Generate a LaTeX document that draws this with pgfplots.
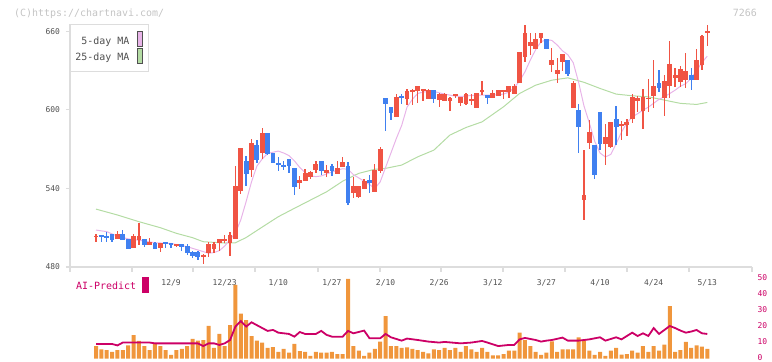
\documentclass[border=0pt]{standalone}
\usepackage{pgfplots}
\pgfplotsset{compat=1.18}
\usepackage{pgfplotstable}
\usepackage{fontspec}
\setmainfont{DejaVu Sans Mono}
\definecolor{cRed}{HTML}{F05444}
\definecolor{cBlue}{HTML}{4080F0}
\definecolor{maPink}{HTML}{E8B4E8}
\definecolor{maGreen}{HTML}{B4DCA4}
\definecolor{volOrange}{HTML}{F0963C}
\definecolor{aiMag}{HTML}{CC0066}
\definecolor{axGray}{HTML}{DDDDDD}
\definecolor{txGray}{HTML}{505050}
\definecolor{wmGray}{HTML}{C4C4C4}

\pgfplotstableread{
i o h l c
0 503.4 504.9 498.8 503.4
1 504.4 504.6 498.8 502.9
2 503.9 506.5 498.8 501.9
3 505.2 505.5 498.8 500.4
4 501.4 507.5 501.4 505.2
5 505.2 508.2 500.5 500.8
6 501.4 501.6 493.8 494.0
7 494.7 505.2 494.5 503.6
8 500.4 513.8 496.8 503.6
9 501.4 501.6 495.3 496.8
10 496.8 502.3 496.6 499.3
11 498.3 499.3 493.8 494.0
12 494.7 498.5 491.7 498.3
13 498.8 499.0 494.7 497.5
14 498.0 498.2 494.7 496.8
15 496.8 497.5 495.5 497.3
16 497.3 497.5 492.4 495.3
17 496.2 497.3 489.0 490.9
18 491.7 491.9 487.1 488.6
19 491.7 491.9 485.3 487.9
20 487.9 489.6 482.1 489.4
21 490.4 499.3 487.9 497.8
22 493.7 499.3 490.4 497.8
23 498.5 501.6 492.4 501.4
24 500.1 504.4 498.2 501.6
25 498.1 506.7 488.4 504.2
26 501.6 557.0 501.4 541.8
27 538.2 571.0 535.9 570.8
28 560.6 564.7 542.0 550.9
29 554.0 577.4 548.9 574.8
30 573.3 576.9 559.1 561.6
31 566.7 586.0 562.1 582.0
32 582.0 582.2 565.2 566.2
33 567.2 567.4 559.4 559.6
34 559.1 564.1 553.4 557.6
35 558.0 561.1 554.0 556.5
36 562.6 562.8 551.9 557.0
37 555.5 555.7 534.9 541.2
38 544.3 549.4 539.5 546.4
39 545.8 554.5 545.6 552.0
40 548.4 553.0 547.5 552.5
41 554.0 561.1 551.5 558.6
42 560.6 560.8 550.2 553.4
43 551.9 557.8 548.9 554.0
44 557.0 558.6 549.4 553.4
45 551.2 560.6 551.0 555.5
46 556.5 564.1 556.3 560.1
47 557.0 560.1 527.5 528.6
48 536.2 548.9 532.4 541.8
49 533.2 542.0 532.6 541.8
50 539.7 547.0 539.5 545.4
51 546.4 550.0 536.2 544.3
52 537.2 558.6 537.0 554.0
53 553.4 571.3 552.0 569.8
54 608.9 609.1 583.5 604.3
55 602.0 602.2 592.4 597.5
56 594.6 611.9 594.4 609.7
57 610.3 611.9 604.8 609.5
58 608.2 615.8 603.8 614.5
59 613.5 615.8 603.8 615.0
60 614.5 618.2 605.0 618.0
61 614.0 615.8 607.0 615.5
62 608.4 615.8 608.2 615.5
63 615.0 615.2 605.3 607.9
64 607.4 612.5 601.8 612.0
65 606.9 613.0 606.7 612.0
66 606.9 609.6 599.2 609.4
67 611.2 612.3 609.0 611.7
68 605.3 609.6 603.0 609.4
69 604.1 612.5 603.9 611.7
70 607.4 612.0 604.0 607.8
71 601.5 612.7 601.3 612.5
72 613.7 621.9 611.2 614.9
73 611.2 611.4 604.5 609.4
74 609.1 615.0 608.9 612.7
75 610.7 615.0 610.5 614.8
76 613.7 615.0 608.0 614.8
77 613.7 618.0 608.7 617.8
78 612.2 620.0 612.0 618.3
79 620.3 644.4 620.1 644.2
80 640.2 664.6 636.6 658.5
81 648.9 659.0 641.7 651.8
82 646.3 659.0 646.1 653.9
83 654.9 658.7 650.8 658.5
84 653.9 654.1 646.1 646.3
85 634.1 647.3 629.0 638.1
86 627.5 639.2 620.3 630.5
87 636.6 642.9 630.0 642.7
88 638.1 638.3 626.0 627.5
89 601.6 622.0 601.4 620.3
90 599.7 604.8 566.7 587.0
91 531.3 569.2 515.8 534.9
92 574.3 592.1 569.8 583.2
93 573.0 573.2 547.1 550.2
94 598.0 598.2 569.6 574.1
95 574.1 588.8 557.8 578.9
96 571.3 590.6 571.1 590.4
97 592.9 602.8 573.0 586.8
98 587.3 591.1 576.6 589.3
99 588.5 592.9 580.1 590.6
100 592.9 611.8 589.8 609.7
101 606.6 610.2 598.5 608.7
102 599.0 615.8 585.3 609.7
103 608.5 623.4 598.0 608.9
104 610.6 638.1 601.5 617.8
105 620.3 630.5 613.7 616.3
106 609.1 626.4 595.4 621.9
107 618.3 652.4 609.1 634.6
108 624.4 631.6 617.3 626.4
109 620.9 633.5 617.3 631.0
110 622.9 643.2 616.3 629.5
111 626.4 632.1 614.8 622.9
112 622.9 646.3 622.7 638.1
113 634.1 657.1 630.5 656.6
114 659.3 664.6 648.8 659.7
}\candles

\pgfplotstableread{
i v
0 7.8
1 5.7
2 5.3
3 4.1
4 5.3
5 5.3
6 8.2
7 14.7
8 11.0
9 7.8
10 5.3
11 9.1
12 7.8
13 5.3
14 2.2
15 5.3
16 6.0
17 7.8
18 12.3
19 11.2
20 11.6
21 20.4
22 6.6
23 15.4
24 7.8
25 21.0
26 46.1
27 28.1
28 24.1
29 14.1
30 11.2
31 10.0
32 6.6
33 7.2
34 4.1
35 6.0
36 3.7
37 9.1
38 4.7
39 4.1
40 1.6
41 4.1
42 3.7
43 3.7
44 4.1
45 2.8
46 2.8
47 49.9
48 7.8
49 4.9
50 1.6
51 3.7
52 6.0
53 10.6
54 26.6
55 7.8
56 7.8
57 6.6
58 6.9
59 6.1
60 5.3
61 4.1
62 3.2
63 5.7
64 5.3
65 6.6
66 5.3
67 6.6
68 4.1
69 7.8
70 5.7
71 4.1
72 6.6
73 4.1
74 2.0
75 2.0
76 2.8
77 4.9
78 4.9
79 16.2
80 11.6
81 7.8
82 4.1
83 2.2
84 3.7
85 10.8
86 4.1
87 5.7
88 5.7
89 5.7
90 13.3
91 11.2
92 4.9
93 2.2
94 4.1
95 1.6
96 4.9
97 6.6
98 2.4
99 2.8
100 4.9
101 3.7
102 7.8
103 4.1
104 7.8
105 4.9
106 8.7
107 32.9
108 4.1
109 5.3
110 10.4
111 6.6
112 8.2
113 7.4
114 6.1
}\volume

\begin{document}
\begin{tikzpicture}[x=1bp,y=1bp]
\useasboundingbox (0,0) rectangle (772,361);

% ---------------- price panel ----------------
\begin{axis}[
  at={(70bp,94bp)}, anchor=south west,
  scale only axis, width=682bp, height=243bp,
  xmin=-4.85, xmax=122.34, ymin=480, ymax=665.5,
  axis x line*=bottom, axis y line*=left,
  axis line style={draw=axGray, line width=1.2bp},
  every outer x axis line/.append style={-},
  every outer y axis line/.append style={-},
  tick align=outside,
  major tick length=4.5bp,
  tick style={draw=axGray, line width=1.2bp},
  xtick={-4.85,6.71,18.09,29.65,41.40,52.96,64.34,75.90,87.46,99.03,110.59,122.34},
  xticklabels={},
  extra x ticks={14,24,34,44,54,64,74,84,94,104,114},
  extra x tick labels={12/9,12/23,1/10,1/27,2/10,2/26,3/12,3/27,4/10,4/24,5/13},
  extra x tick style={major tick length=0pt,
     tick label style={font=\fontsize{8}{9}\selectfont, text=txGray, yshift=-9bp}},
  ytick={480,540,600,660},
  yticklabel style={font=\fontsize{8}{9}\selectfont, text=txGray, xshift=-2bp},
  /pgf/number format/assume math mode=true,
  clip=false,
  candle/.style={draw=none, mark=none, forget plot,
    error bars/y dir=both, error bars/y explicit, error bars/error mark=none},
]
\addplot[maGreen, line width=1bp] coordinates {
(0,524.2) (4,519.7) (8,514.6) (12,510.0) (15,505.7) (18,502.4) (20,499.3) (22,498.8)
(24,498.3) (26,498.5) (28,502.5) (31,510.5) (34,518.4) (37,524.8) (40,531.1) (43,537.4)
(46,545.5) (49,551.5) (52,554.6) (54,555.3) (57,557.8) (60,564.1) (63,569.2) (66,580.7)
(69,586.5) (72,590.8) (76,602.3) (79,612.5) (82,618.8) (85,622.6) (88,624.4) (91,621.0)
(94,616.3) (97,612.0) (100,610.7) (103,609.9) (106,607.4) (109,604.9) (112,604.1) (114,605.6)};
\addplot[maPink, line width=1bp] coordinates {
(0,508.2) (2,507.0) (4,503.5) (6,501.5) (8,500.4) (11,498.5) (14,498.0) (17,495.5)
(19,493.0) (21,490.5) (22,491.0) (23,492.5) (24,496.0) (25,501.0) (26,506.0) (27,516.0)
(28,530.0) (29,545.0) (30,557.0) (31,562.5) (32,566.7) (34,568.5) (35,567.0) (36,565.0)
(37,561.0) (38,556.0) (39,552.0) (40,549.5) (41,549.0) (42,549.5) (43,551.0) (44,552.5)
(45,554.0) (46,555.0) (47,554.6) (48,550.5) (49,548.0) (50,545.5) (51,543.0) (52,540.0)
(53,545.0) (54,556.0) (55,567.0) (56,578.0) (57,588.0) (58,602.0) (59,608.0) (60,612.5)
(61,613.5) (62,614.0) (63,614.0) (64,613.0) (65,612.0) (66,611.2) (67,610.5) (68,610.2)
(69,610.5) (70,611.0) (72,611.2) (74,611.2) (75,611.5) (76,612.0) (77,613.5) (78,617.0)
(79,622.0) (80,629.0) (81,638.0) (82,646.0) (83,652.0) (84,653.5) (85,653.0) (86,649.5)
(87,645.0) (88,642.0) (89,636.0) (90,621.0) (91,603.0) (92,590.0) (93,576.0) (94,567.0)
(95,564.0) (96,566.0) (97,574.0) (98,583.0) (99,590.0) (100,594.6) (101,597.0) (102,599.7)
(103,602.0) (104,605.0) (105,608.0) (106,610.0) (107,612.4) (108,615.0) (109,618.0)
(110,620.0) (111,624.0) (112,630.0) (113,636.0) (114,641.0)};
% wicks
\addplot[candle, restrict expr to domain={\thisrow{c}-\thisrow{o}}{0:1000},
  error bars/error bar style={draw=cRed, line width=1.3bp}]
  table[x=i, y expr={(\thisrow{h}+\thisrow{l})/2}, y error expr={(\thisrow{h}-\thisrow{l})/2}] {\candles};
\addplot[candle, restrict expr to domain={\thisrow{c}-\thisrow{o}}{-1000:-0.001},
  error bars/error bar style={draw=cBlue, line width=1.3bp}]
  table[x=i, y expr={(\thisrow{h}+\thisrow{l})/2}, y error expr={(\thisrow{h}-\thisrow{l})/2}] {\candles};
% bodies
\addplot[candle, restrict expr to domain={\thisrow{c}-\thisrow{o}}{0:1000},
  error bars/error bar style={draw=cRed, line width=4.8bp}]
  table[x=i, y expr={(\thisrow{o}+\thisrow{c})/2}, y error expr={max(abs(\thisrow{c}-\thisrow{o})/2,0.5)}] {\candles};
\addplot[candle, restrict expr to domain={\thisrow{c}-\thisrow{o}}{-1000:-0.001},
  error bars/error bar style={draw=cBlue, line width=4.8bp}]
  table[x=i, y expr={(\thisrow{o}+\thisrow{c})/2}, y error expr={max(abs(\thisrow{c}-\thisrow{o})/2,0.5)}] {\candles};
\end{axis}

% legend box
\draw[axGray, line width=1bp, fill=white] (70,336.7) rectangle (148.3,290);
\node[anchor=base east, inner sep=0pt, text=txGray, font=\fontsize{10}{12}\selectfont] at (129.5,317) {5-day MA};
\node[anchor=base east, inner sep=0pt, text=txGray, font=\fontsize{10}{12}\selectfont] at (129.5,301) {25-day MA};
\draw[draw=txGray, line width=0.8bp, fill=maPink] (137,314.5) rectangle (142.7,329.5);
\draw[draw=txGray, line width=0.8bp, fill=maGreen] (137,297.8) rectangle (142.7,312.7);

% ---------------- volume / AI panel ----------------
\begin{axis}[
  at={(70bp,2.5bp)}, anchor=south west,
  scale only axis, width=682bp, height=79.75bp,
  xmin=-4.85, xmax=122.34, ymin=0, ymax=50,
  axis line style={draw=none},
  xtick=\empty,
  ytick={0,10,20,30,40,50},
  yticklabel pos=right,
  major tick length=0pt,
  yticklabel style={font=\fontsize{8}{9}\selectfont, text=aiMag, anchor=west, xshift=2bp, yshift=1.2bp},
  /pgf/number format/assume math mode=true,
  clip=false,
]
\addplot[ybar, bar width=4bp, fill=volOrange, draw=none] table[x=i, y=v] {\volume};
\addplot[aiMag, line width=1.8bp, mark=none] coordinates {
(0,9.1) (3,9.1) (4,8.2) (5,10.0) (10,10.0) (11,9.5) (19,9.5) (20,7.8) (21,9.5) (22,9.5)
(23,8.5) (24,9.5) (25,11.6) (26,20.0) (27,23.5) (28,20.0) (29,22.7) (31,19.1) (32,17.3)
(33,17.9) (34,16.2) (36,15.4) (37,13.7) (38,16.6) (39,15.4) (41,15.4) (42,17.3) (43,14.8)
(44,13.7) (46,13.7) (47,17.3) (48,15.8) (50,17.5) (51,12.7) (53,12.7) (54,15.4) (55,13.3)
(57,11.2) (58,12.5) (60,11.6) (62,10.6) (64,10.0) (65,10.4) (68,9.5) (70,10.0) (72,11.0)
(73,10.0) (75,7.8) (77,8.5) (78,8.5) (79,12.0) (80,12.9) (82,11.6) (83,10.6) (84,11.2)
(85,11.6) (87,13.1) (88,11.2) (90,11.2) (92,12.0) (94,13.3) (95,11.2) (97,13.3) (98,12.0)
(100,16.2) (101,14.1) (102,15.8) (103,14.1) (104,19.1) (105,15.4) (107,20.4) (108,19.1)
(109,17.5) (110,16.2) (111,16.9) (112,17.9) (113,15.8) (114,15.4)};
\end{axis}

% AI-Predict label
\node[anchor=base west, inner sep=0pt, text=aiMag, font=\fontsize{10}{12}\selectfont] at (76,71.7) {AI-Predict};
\fill[aiMag] (142,68.3) rectangle (148.7,83.7);

% watermark and code
\node[anchor=base west, inner sep=0pt, text=wmGray, font=\fontsize{10}{12}\selectfont] at (14,345) {(C)https://chartnavi.com/};
\node[anchor=base east, inner sep=0pt, text=wmGray, font=\fontsize{10}{12}\selectfont] at (757,345) {7266};
\end{tikzpicture}
\end{document}
